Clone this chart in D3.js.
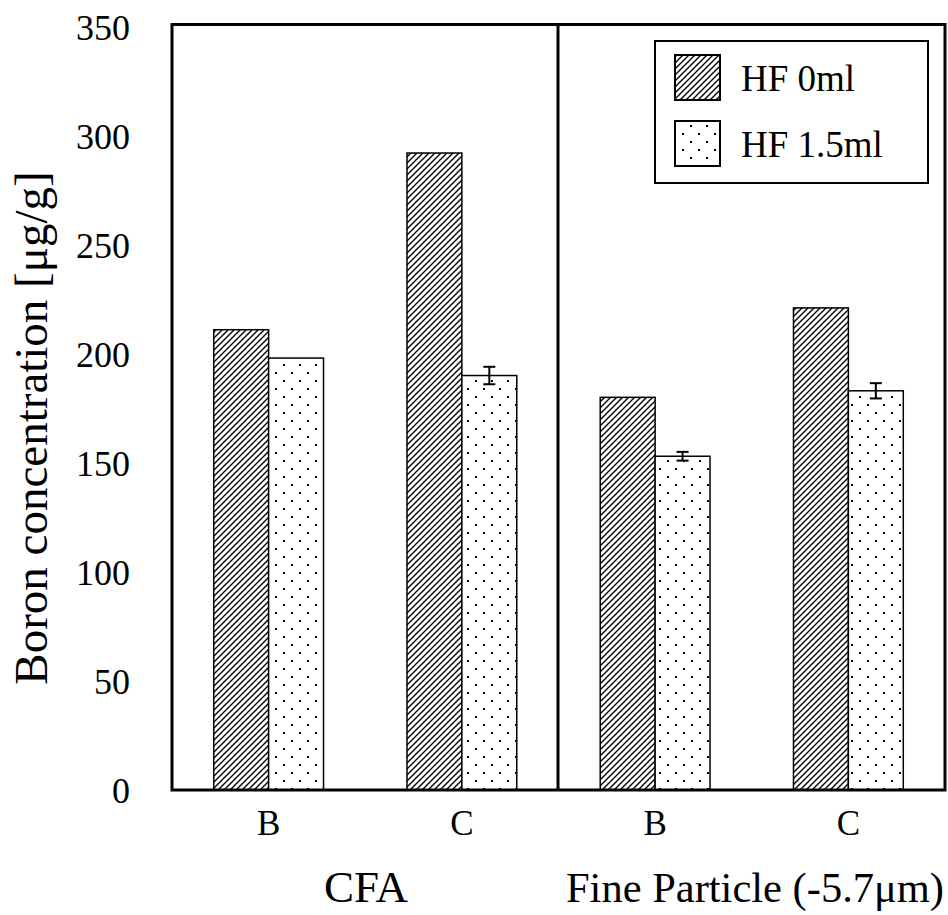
<!DOCTYPE html>
<html><head><meta charset="utf-8">
<script src="https://cdn.jsdelivr.net/npm/d3@7"></script>
<style>body{margin:0;background:#fff}svg{display:block}text{font-family:"Liberation Serif","Times New Roman",serif;fill:#000}</style>
</head><body><div id="chart"></div>
<script>
const groups = ["CFA", "Fine Particle (-5.7μm)"];
const categories = ["B", "C", "B", "C"];
const categoryGroup = [0, 0, 1, 1];
const seriesNames = ["HF 0ml", "HF 1.5ml"];
const hf0 = [211, 292, 180, 221];
const hf15 = [198, 190, 153, 183];
const hf0Err = [0, 0, 0, 0];
const hf15Err = [0, 4, 2, 3.5];
const yTicks = [0, 50, 100, 150, 200, 250, 300, 350];

(function () {
const W = 948, H = 915;
const m = {left: 172, right: 3, top: 26.5, bottom: 125};
const svg = d3.select("#chart").append("svg").attr("width", W).attr("height", H);
const defs = svg.append("defs");
const hatch = defs.append("pattern").attr("id", "hatch").attr("patternUnits", "userSpaceOnUse")
  .attr("width", 6).attr("height", 6);
hatch.append("rect").attr("width", 6).attr("height", 6).attr("fill", "#fff");
hatch.append("path").attr("d", "M-1,7 L7,-1 M-4,4 L4,-4 M2,10 L10,2").attr("stroke", "#000").attr("stroke-width", 1.4);
const dots = defs.append("pattern").attr("id", "dots").attr("patternUnits", "userSpaceOnUse")
  .attr("width", 16).attr("height", 16).attr("x", 3).attr("y", 4);
dots.append("rect").attr("width", 16).attr("height", 16).attr("fill", "#fff");
dots.append("rect").attr("x", 0).attr("y", 0).attr("width", 2).attr("height", 2).attr("fill", "#000");
dots.append("rect").attr("x", 8).attr("y", 8).attr("width", 2).attr("height", 2).attr("fill", "#000");
const fills = ["url(#hatch)", "url(#dots)"];

const x0 = d3.scaleBand().domain(d3.range(categories.length)).range([m.left, W - m.right]).padding(0);
const x1 = d3.scaleBand().domain([0, 1]).range([0, x0.bandwidth()]).paddingOuter(0.76).paddingInner(0);
const y = d3.scaleLinear().domain([0, 350]).range([H - m.bottom, m.top]);

const series = [hf0, hf15];
const errs = [hf0Err, hf15Err];
const g = svg.append("g");
categories.forEach((c, i) => {
  series.forEach((s, k) => {
    g.append("rect").attr("x", x0(i) + x1(k)).attr("y", y(s[i]))
      .attr("width", x1.bandwidth()).attr("height", y(0) - y(s[i]))
      .attr("fill", fills[k]).attr("stroke", "#000").attr("stroke-width", 1.5);
    if (errs[k][i] > 0) {
      const cx = x0(i) + x1(k) + x1.bandwidth() / 2;
      const lo = y(s[i] - errs[k][i]), hi = y(s[i] + errs[k][i]);
      g.append("line").attr("x1", cx).attr("x2", cx).attr("y1", lo).attr("y2", hi).attr("stroke", "#000").attr("stroke-width", 2);
      [lo, hi].forEach(yy => g.append("line").attr("x1", cx - 6).attr("x2", cx + 6).attr("y1", yy).attr("y2", yy).attr("stroke", "#000").attr("stroke-width", 2));
    }
  });
});

// frame
const frameTop = m.top - 2, bot = y(0);
svg.append("rect").attr("x", m.left).attr("y", frameTop).attr("width", W - m.right - m.left).attr("height", bot - frameTop)
  .attr("fill", "none").attr("stroke", "#000").attr("stroke-width", 3);
const midX = x0(2);
svg.append("line").attr("x1", midX - 0.5).attr("x2", midX - 0.5).attr("y1", frameTop).attr("y2", bot).attr("stroke", "#000").attr("stroke-width", 3);

// y axis
const yAxis = d3.axisLeft(y).tickValues(yTicks).tickSize(0).tickPadding(42);
const ya = svg.append("g").attr("transform", `translate(${m.left},0)`).call(yAxis);
ya.select(".domain").remove();
ya.selectAll("text").attr("font-size", 36).attr("dy", "0.35em");

// x axis
const xAxis = d3.axisBottom(x0).tickFormat(i => categories[i]).tickSize(0).tickPadding(0);
const xa = svg.append("g").attr("transform", `translate(0,${bot})`).call(xAxis);
xa.select(".domain").remove();
xa.selectAll("text").attr("font-size", 35).attr("y", 45).attr("dy", 0);

// group labels
const groupCenters = [366, 755];
const groupSizes = [45, 42.5];
groups.forEach((gname, gi) => {
  svg.append("text").attr("x", groupCenters[gi]).attr("y", 902).attr("text-anchor", "middle")
    .attr("font-size", groupSizes[gi]).text(gname);
});

// y title
svg.append("text").attr("transform", `translate(47,428) rotate(-90)`)
  .attr("text-anchor", "middle").attr("font-size", 47).text("Boron concentration [μg/g]");

// legend
const lg = svg.append("g").attr("transform", "translate(655,41)");
lg.append("rect").attr("width", 273).attr("height", 142).attr("fill", "#fff").attr("stroke", "#000").attr("stroke-width", 2);
seriesNames.forEach((n, k) => {
  lg.append("rect").attr("x", 20).attr("y", 14 + k * 66).attr("width", 45).attr("height", 45)
    .attr("fill", fills[k]).attr("stroke", "#000").attr("stroke-width", 2);
  lg.append("text").attr("x", 86).attr("y", 50 + k * 66).attr("font-size", 37).text(n);
});
})();
</script></body></html>
